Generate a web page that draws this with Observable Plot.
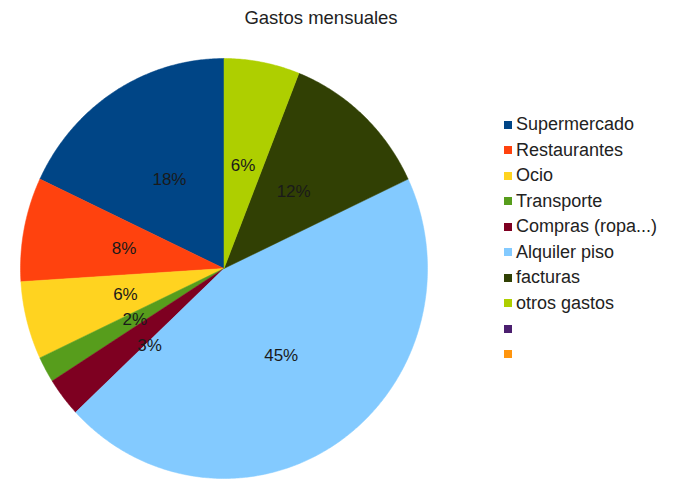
<!DOCTYPE html>
<html>
<head>
<meta charset="utf-8">
<script src="https://cdn.jsdelivr.net/npm/d3@7"></script>
<script src="https://cdn.jsdelivr.net/npm/@observablehq/plot@0.6"></script>
<style>
  html, body { margin: 0; padding: 0; background: #fff; }
  #wrap { position: relative; width: 677px; height: 484px; overflow: hidden; font-family: "Liberation Sans", Arial, sans-serif; }
  #title { height: 36px; width: 642px; line-height: 36px; text-align: center; font-size: 18.5px; color: #222; }
  #legend { position: absolute; left: 504px; top: 112px; }
  .row { height: 25.5px; line-height: 25.5px; font-size: 18px; color: #222; white-space: nowrap; display: flex; align-items: center; }
  .sw { width: 8px; height: 8px; margin-right: 4px; flex: none; }
</style>
</head>
<body>
<div id="wrap">
  <div id="title"></div>
  <div id="chart"></div>
  <div id="legend"></div>
</div>
<script>
// ---- data ----
const titleText = "Gastos mensuales";
const categories = ["Supermercado", "Restaurantes", "Ocio", "Transporte", "Compras (ropa...)", "Alquiler piso", "facturas", "otros gastos"];
const percents = [18, 8, 6, 2, 3, 45, 12, 6];
const legendLabels = ["Supermercado", "Restaurantes", "Ocio", "Transporte", "Compras (ropa...)", "Alquiler piso", "facturas", "otros gastos", "", ""];
const palette = ["#004586", "#ff420e", "#ffd320", "#579d1c", "#7e0021", "#83caff", "#314004", "#aecf00", "#4b1f6f", "#ff950e"];

// ---- layout ----
const W = 677, H = 448;
const cx = 223.5, cy = 232, rx = 203.5, ry = 210;
const shiftedLabel = "Compras (ropa...)"; // label nudged outward as in the original

document.getElementById("title").textContent = titleText;

const rows = categories.map((c, i) => ({name: c, value: percents[i]}));
// counterclockwise from 12 o'clock
const arcs = d3.pie().sort(null).value(d => d.value).startAngle(0).endAngle(-2 * Math.PI)(rows);

const polyPts = [];
arcs.forEach(a => {
  const name = a.data.name;
  polyPts.push({name, x: 0, y: 0});
  const n = Math.max(2, Math.ceil(Math.abs(a.endAngle - a.startAngle) / (Math.PI / 360)));
  for (let k = 0; k <= n; k++) {
    const t = a.startAngle + (a.endAngle - a.startAngle) * k / n;
    polyPts.push({name, x: Math.sin(t), y: Math.cos(t)});
  }
  polyPts.push({name, x: 0, y: 0});
});

const labels = arcs.map(a => {
  const m = (a.startAngle + a.endAngle) / 2;
  return {name: a.data.name, text: a.data.value + "%", x: 0.5 * Math.sin(m), y: 0.5 * Math.cos(m)};
});

const font = "Liberation Sans, Arial, sans-serif";
const chart = Plot.plot({
  width: W,
  height: H,
  margin: 0,
  style: {background: "transparent", overflow: "visible"},
  x: {domain: [-1, 1], range: [cx - rx, cx + rx], axis: null},
  y: {domain: [-1, 1], range: [cy + ry, cy - ry], axis: null},
  color: {type: "ordinal", domain: categories, range: palette.slice(0, categories.length)},
  marks: [
    Plot.line(polyPts, {x: "x", y: "y", z: "name", fill: "name", stroke: "name", strokeWidth: 0.5, curve: "linear"}),
    Plot.text(labels.filter(d => d.name !== shiftedLabel), {x: "x", y: "y", text: "text", fill: "#1a1a1a", fontSize: 17, fontFamily: font}),
    Plot.text(labels.filter(d => d.name === shiftedLabel), {x: "x", y: "y", text: "text", fill: "#1a1a1a", fontSize: 17, fontFamily: font, dx: 6, dy: 13})
  ]
});
document.getElementById("chart").appendChild(chart);

const legend = document.getElementById("legend");
legendLabels.forEach((lab, i) => {
  const r = document.createElement("div");
  r.className = "row";
  const s = document.createElement("span");
  s.className = "sw";
  s.style.background = palette[i];
  const t = document.createElement("span");
  t.textContent = lab;
  r.appendChild(s); r.appendChild(t);
  legend.appendChild(r);
});
</script>
</body>
</html>
